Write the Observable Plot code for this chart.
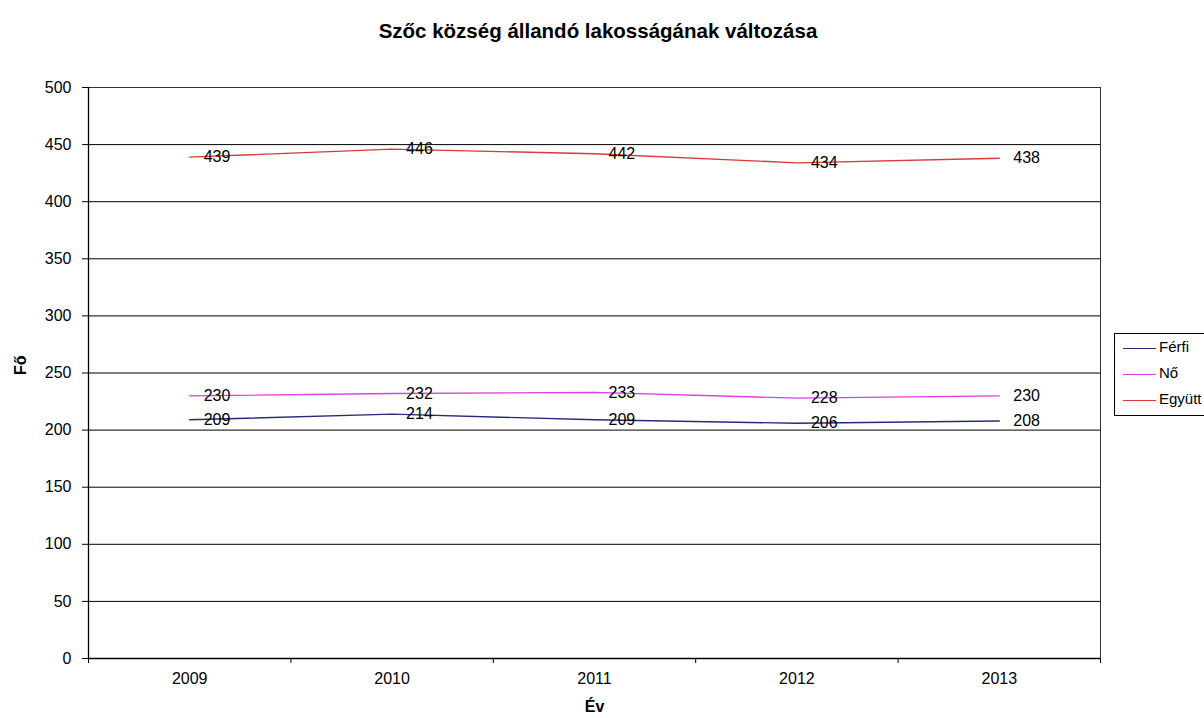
<!DOCTYPE html>
<html>
<head>
<meta charset="utf-8">
<script src="https://cdn.jsdelivr.net/npm/d3@7"></script>
<script src="https://cdn.jsdelivr.net/npm/@observablehq/plot@0.6"></script>
<style>
  html, body { margin: 0; padding: 0; background: #fff; overflow: hidden; width: 1204px; height: 718px; }
  body { position: relative; font-family: "Liberation Sans", Arial, sans-serif; }
  #title { position: absolute; left: 0; top: 0; width: 1196px; height: 60px; text-align: center;
           font-weight: bold; font-size: 20.5px; line-height: 62px; color: #000; }
  #chart { position: absolute; left: 0; top: 60px; }
  #chart svg [aria-label$="tick label"] { font-size: 16px !important; }
  #legend { position: absolute; left: 1114px; top: 333px; width: 120px; height: 81px;
            border: 1px solid #000; background: #fff; font-size: 15px; color: #000; }
  .item { position: absolute; left: 8px; height: 16px; line-height: 16px; white-space: nowrap; }
  .item span.sw { display: inline-block; width: 33px; height: 0; vertical-align: middle; margin-right: 3px; border-top: 1.3px solid; }
</style>
</head>
<body>
<div id="title">Szőc község állandó lakosságának változása</div>
<div id="chart"></div>
<div id="legend"></div>
<script>
const years = [2009, 2010, 2011, 2012, 2013];
const ferfi = [209, 214, 209, 206, 208];
const no = [230, 232, 233, 228, 230];
const egyutt = [439, 446, 442, 434, 438];
const seriesNames = ["Férfi", "Nő", "Együtt"];
const seriesColors = ["#2a2a7a", "#e03ce0", "#d83a3a"];
const yTicks = [0, 50, 100, 150, 200, 250, 300, 350, 400, 450, 500];

const seriesValues = [ferfi, no, egyutt];
const data = [];
seriesValues.forEach((vals, i) => {
  vals.forEach((v, j) => data.push({year: years[j], value: v, series: seriesNames[i]}));
});
const boundaries = years.map(y => y - 0.5).concat([years[years.length - 1] + 0.5]);

const chart = Plot.plot({
  width: 1204,
  height: 658,
  marginTop: 27,
  marginBottom: 60,
  marginLeft: 88,
  marginRight: 104,
  style: {fontFamily: "'Liberation Sans', Arial, sans-serif", fontSize: "16px", color: "#000", background: "#fff"},
  x: {type: "linear", domain: [years[0] - 0.5, years[years.length - 1] + 0.5]},
  y: {domain: [0, 500]},
  color: {domain: seriesNames, range: seriesColors},
  marks: [
    Plot.gridY(yTicks, {stroke: "#000", strokeOpacity: 1, strokeWidth: 1}),
    Plot.frame({stroke: "#333", strokeWidth: 1}),
    Plot.ruleX([years[0] - 0.5], {stroke: "#000", strokeWidth: 1.3}),
    Plot.ruleY([0], {stroke: "#000", strokeWidth: 1.3}),
    Plot.axisY(yTicks, {tickSize: 6, tickPadding: 11, label: null, fontSize: 16, tickFormat: d => String(d)}),
    Plot.axisX(boundaries, {tickSize: 5, tickFormat: () => "", label: null}),
    Plot.axisX(years, {tickSize: 0, tickPadding: 14, label: null, fontSize: 16, tickFormat: d => String(d)}),
    Plot.line(data, {x: "year", y: "value", z: "series", stroke: "series", strokeWidth: 1.4}),
    Plot.text(data, {x: "year", y: "value", text: d => String(d.value), textAnchor: "start", dx: 14, fontSize: 16, fill: "#000"}),
    Plot.text(["Fő"], {frameAnchor: "left", dx: -68, dy: 2, rotate: -90, fontWeight: "bold", fontSize: 16, fill: "#000"}),
    Plot.text(["Év"], {frameAnchor: "bottom", dy: 53, fontWeight: "bold", fontSize: 16, fill: "#000"})
  ]
});
document.getElementById("chart").appendChild(chart);

const legend = document.getElementById("legend");
const tops = [5, 31, 57];
seriesNames.forEach((name, i) => {
  const d = document.createElement("div");
  d.className = "item";
  d.style.top = tops[i] + "px";
  d.innerHTML = `<span class="sw" style="border-color:${seriesColors[i]}"></span>${name}`;
  legend.appendChild(d);
});
</script>
</body>
</html>
